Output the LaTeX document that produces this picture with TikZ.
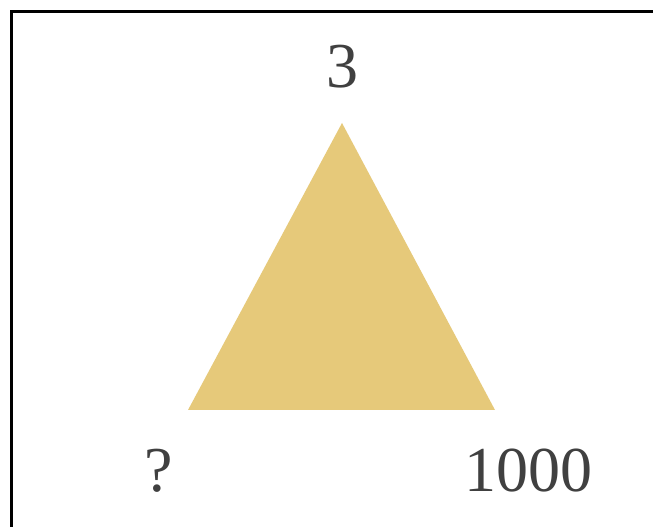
\documentclass[tikz,border=0pt]{standalone}
\usepackage{fontspec}
\setmainfont{Liberation Serif}
\definecolor{tri}{HTML}{E6C97A}
\definecolor{txt}{HTML}{404040}
\begin{document}
\begin{tikzpicture}[x=1pt,y=1pt,
  lbl/.style={text=txt,font=\fontsize{64}{64}\selectfont,anchor=base,inner sep=0pt}]
\useasboundingbox (0,0) rectangle (653,527);
\clip (0,0) rectangle (653,527);
\fill[white] (0,0) rectangle (653,527);
\draw[line width=3pt] (11.5,-20) -- (11.5,515.5) -- (680,515.5);
\fill[tri] (342,404) -- (188,117) -- (495,117) -- cycle;
\node[lbl] (top) at (342,439) {3};
\node[lbl] (left) at (159,35) {?};
\node[lbl] (right) at (528,35) {1000};
\end{tikzpicture}
\end{document}
